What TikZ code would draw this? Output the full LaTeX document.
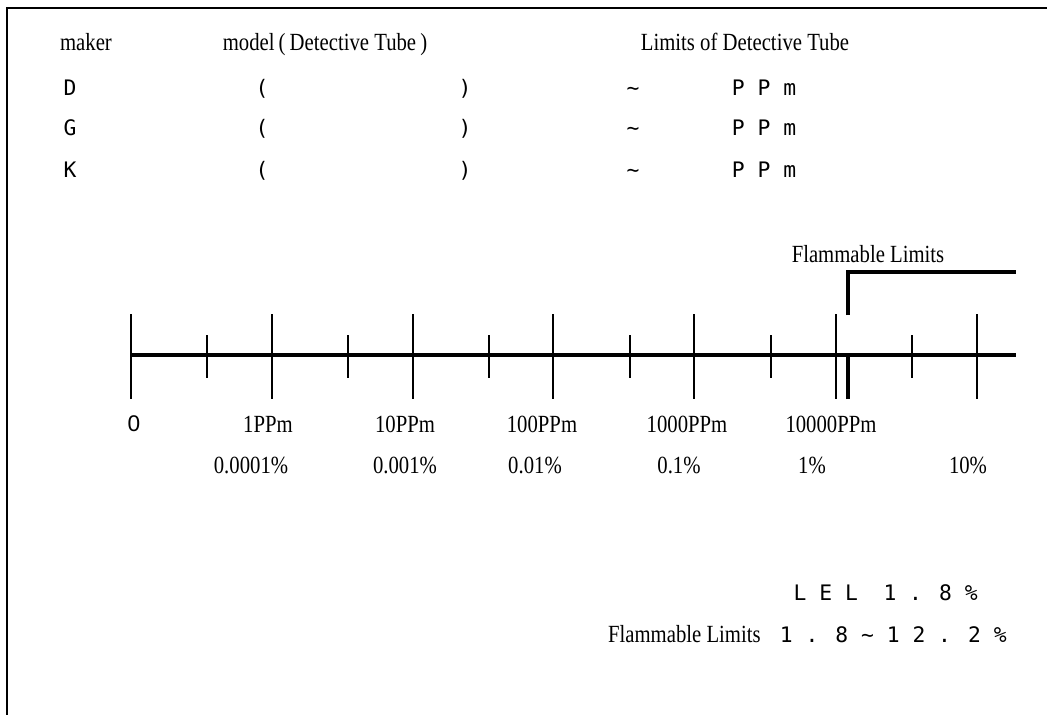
\documentclass[tikz,border=0pt]{standalone}
\usepackage{fontspec}
\setmainfont{Liberation Serif}[FakeStretch=0.84]
\newfontfamily\gothic{DejaVu Sans Mono}
\newfontfamily\gothicp{Liberation Sans}
\usetikzlibrary{positioning}
\tikzset{
  frameline/.style={line width=2pt, draw=black},
  scaleline/.style={line width=2.3pt, draw=black},
  majortick/.style={line width=1.1pt, draw=black},
  minortick/.style={line width=1.1pt, draw=black},
  flamline/.style={line width=3.2pt, draw=black},
  serif/.style={font=\fontsize{18.5}{20}\selectfont, inner sep=0pt, anchor=base},
  mono/.style={font=\gothic\fontsize{16}{18}\selectfont, inner sep=0pt, anchor=base}
}

\begin{document}
\begin{tikzpicture}[x=0.75pt, y=-0.75pt]
  \useasboundingbox (0,0) rectangle (1047,715);

  % open frame
  \draw[frameline] (1047,8) -- (7,8) -- (7,715);

  % table head
  \node[serif] (maker) at (86,50) {maker};
  \node[serif] (model) at (325,50) {model\,(\,Detective Tube\,)};
  \node[serif] (limits) at (745,50) {Limits of Detective Tube};

  % one row per maker
  \foreach \m/\y in {D/95,G/135,K/177} {
    \node[mono] (name\m) at (70,\y) {\m};
    \node[mono] (open\m) at (262,\y) {(};
    \node[mono] (close\m) at (465,\y) {)};
    \node[mono] (tilde\m) at (633,\y) {\textasciitilde};
    \node[mono] (ppm\m) at (764,\y) {P P m};
  }

  % concentration scale
  \draw[scaleline] (131,355) coordinate (s0) -- (1016,355) coordinate (s1);
  \foreach \x in {131,272,413,553,694,836,977}
    \draw[majortick] (\x,314) -- (\x,399);
  \foreach \x in {207,348,489,630,771,912}
    \draw[minortick] (\x,335) -- (\x,378);

  \node[mono, font=\gothicp\fontsize{17}{18}\selectfont] (zero) at (134,431) {0};
  \foreach \x/\t [count=\i] in {268/1PPm,405/10PPm,542/100PPm,687/1000PPm,831/10000PPm}
    \node[serif] (ppm\i) at (\x,432) {\t};
  \foreach \x/\t [count=\i] in {251/0.0001\%,405/0.001\%,535/0.01\%,679/0.1\%,812/1\%,968/10\%}
    \node[serif] (pct\i) at (\x,473) {\t};

  % flammable range marker
  \node[serif] (flamlbl) at (868,262) {Flammable Limits};
  \draw[flamline] (848,399) -- (848,355);
  \draw[flamline] (848,315) -- (848,272) -- (1016,272);

  % notes
  \node[mono, anchor=base east] (lel) at (978,600) {L E L\ \ 1 . 8 \%};
  \node[mono, anchor=base east] (range) at (1007,642) {1 . 8 \textasciitilde{} 1 2 . 2 \%};
  \node[serif, left=14pt of range.base west, anchor=base east] (flamnote) {Flammable Limits};
\end{tikzpicture}
\end{document}
